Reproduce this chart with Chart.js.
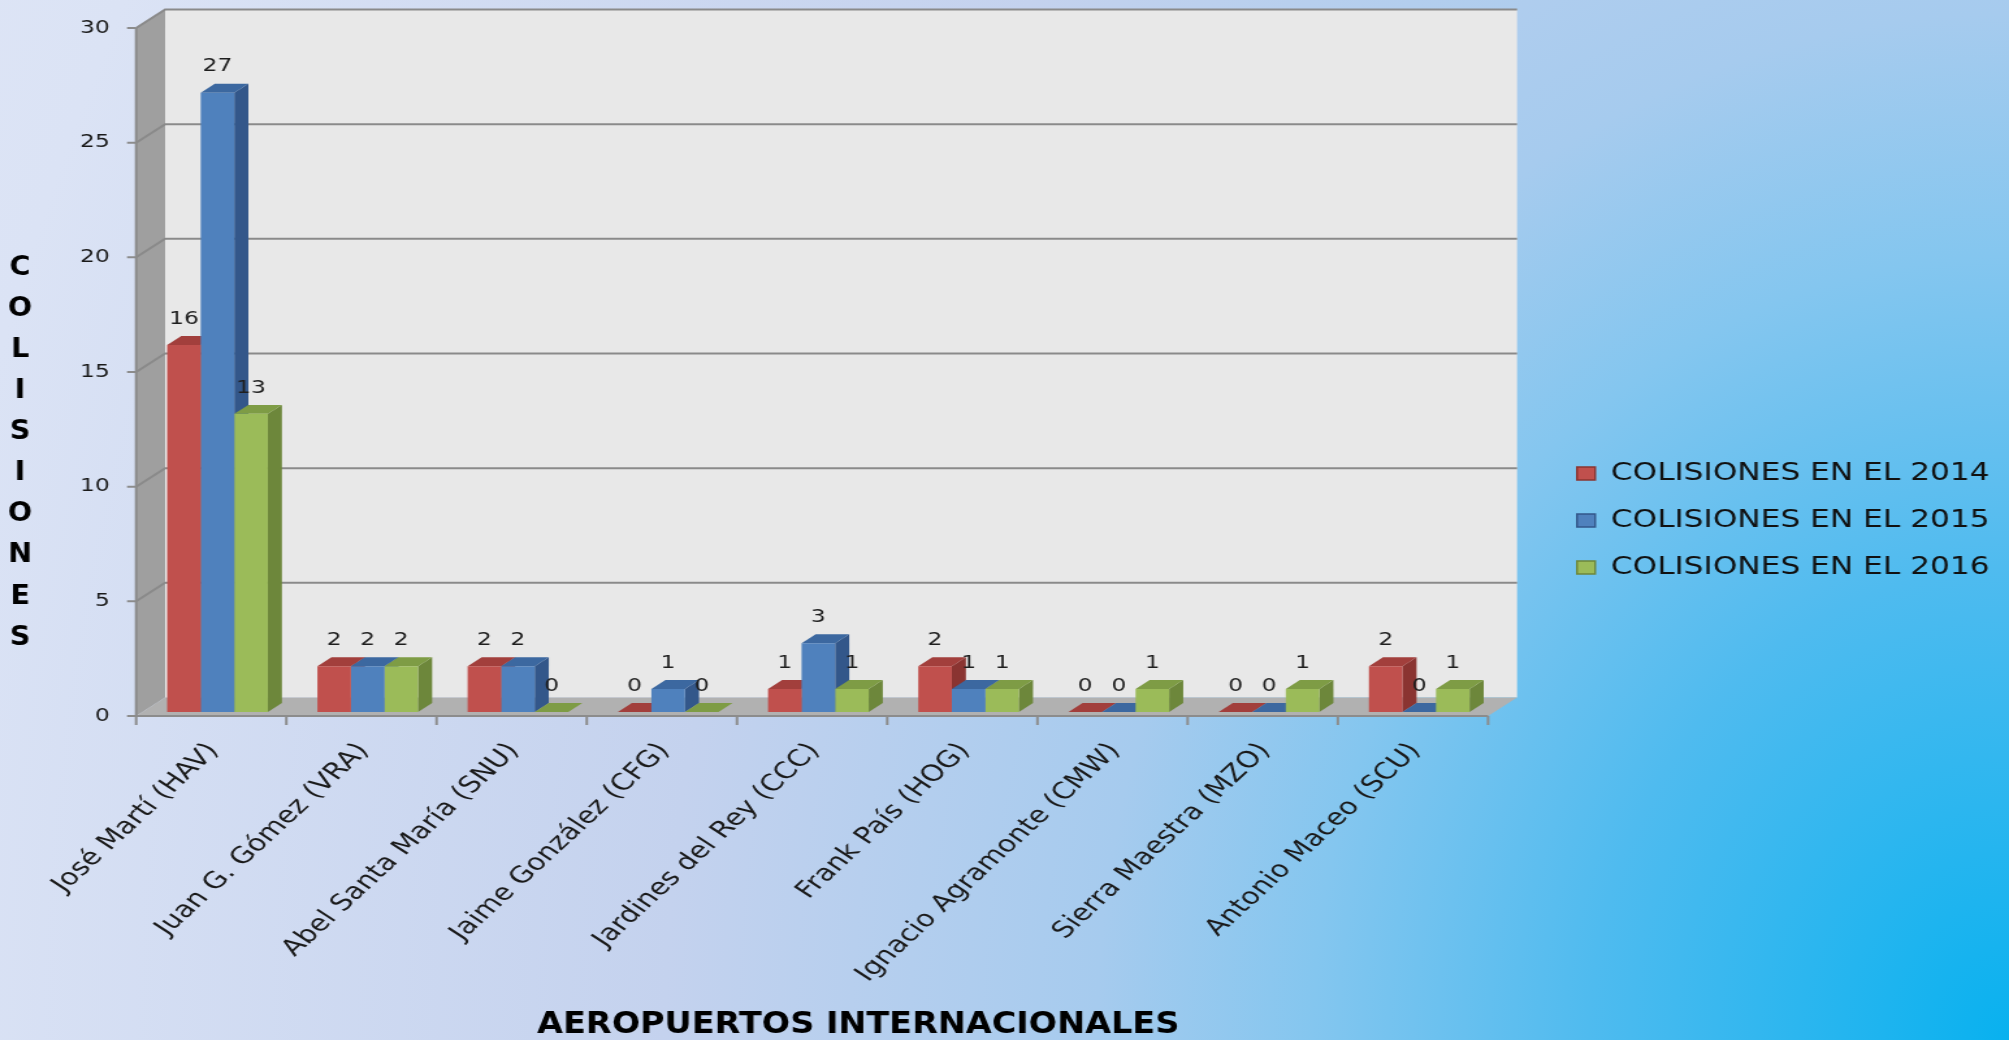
<!DOCTYPE html>
<html>
<head>
<meta charset="utf-8">
<script src="https://cdn.jsdelivr.net/npm/chart.js@4.4.1/dist/chart.umd.min.js"></script>
<style>
  html, body { margin: 0; padding: 0; width: 2009px; height: 1040px; overflow: hidden; }
  body {
    background: radial-gradient(ellipse 1200px 1350px at 100% 100%, #08b1ef 0%, #4fbbef 35%, #84c6ef 58%, #a6cbee 76%, #c4d2ee 112%, #dbe3f5 175%, #e3e9f7 230%);
  }
  #grafico { display: block; width: 2009px !important; height: 1040px !important; }
</style>
</head>
<body>
<canvas id="grafico" width="1545" height="1040" style="width:2009px;height:1040px"></canvas>
<script>
const aeropuertos = [
    'José Martí (HAV)', 'Juan G. Gómez (VRA)', 'Abel Santa María (SNU)',
    'Jaime González (CFG)', 'Jardines del Rey (CCC)', 'Frank País (HOG)',
    'Ignacio Agramonte (CMW)', 'Sierra Maestra (MZO)', 'Antonio Maceo (SCU)'
];
const colisiones2014 = [16, 2, 2, 0, 1, 2, 0, 0, 2];
const colisiones2015 = [27, 2, 2, 1, 3, 1, 0, 0, 0];
const colisiones2016 = [13, 2, 0, 0, 1, 1, 1, 1, 1];
const series = ['COLISIONES EN EL 2014', 'COLISIONES EN EL 2015', 'COLISIONES EN EL 2016'];
const tituloX = 'AEROPUERTOS INTERNACIONALES';
const tituloY = 'COLISIONES';

// frente, tapa y lado de cada barra
const colores = [
    { frente: '#c0504d', tapa: '#a23f3c', lado: '#8a3431' },
    { frente: '#4f81bd', tapa: '#3c68a0', lado: '#33578a' },
    { frente: '#9bbb59', tapa: '#7e9c45', lado: '#6d873b' }
];

// la imagen original viene estirada a lo ancho
const ESTIRA = 2009 / 1545;
const FONDO = { dx: 22.3, dy: -18.5 };
const T_FRENTE = 0.216;
const T_BARRA = 0.486;
const AREA_DERECHA = 1149.2;

const poligono = (ctx, pts, color) => {
    ctx.beginPath();
    ctx.moveTo(pts[0][0], pts[0][1]);
    for (let i = 1; i < pts.length; i++) ctx.lineTo(pts[i][0], pts[i][1]);
    ctx.closePath();
    ctx.fillStyle = color;
    ctx.fill();
};

const paredes3d = {
    id: 'paredes3d',
    beforeDatasetsDraw(chart) {
        const { ctx, chartArea: a, scales: { x, y } } = chart;
        const ox = -T_FRENTE * FONDO.dx, oy = -T_FRENTE * FONDO.dy;
        const fx0 = a.left + ox, fx1 = a.right + ox;
        const bx0 = fx0 + FONDO.dx, bx1 = fx1 + FONDO.dx;
        const fy = v => y.getPixelForValue(v) + oy;
        const by = v => fy(v) + FONDO.dy;
        const tope = y.max;

        ctx.save();
        ctx.fillStyle = '#e8e8e8';
        ctx.fillRect(bx0, by(tope), bx1 - bx0, by(0) - by(tope));
        poligono(ctx, [[fx0, fy(tope)], [bx0, by(tope)], [bx0, by(0)], [fx0, fy(0)]], '#9f9f9f');
        poligono(ctx, [[fx0, fy(0)], [fx1, fy(0)], [bx1, by(0)], [bx0, by(0)]], '#b1b1b1');

        ctx.strokeStyle = '#8a8a8a';
        ctx.lineWidth = 2;
        y.ticks.forEach(t => {
            if (t.value === 0) return;
            ctx.beginPath();
            ctx.moveTo(fx0, fy(t.value));
            ctx.lineTo(bx0, by(t.value));
            ctx.lineTo(bx1, by(t.value));
            ctx.stroke();
        });

        // ejes del frente
        ctx.strokeStyle = '#8c8c8c';
        ctx.beginPath();
        ctx.moveTo(fx0, fy(tope));
        ctx.lineTo(fx0, fy(0));
        ctx.lineTo(fx1, fy(0));
        y.ticks.forEach(t => {
            ctx.moveTo(fx0 - 7, fy(t.value));
            ctx.lineTo(fx0, fy(t.value));
        });
        for (let i = 0; i <= aeropuertos.length; i++) {
            const px = x.getPixelForValue(i - 0.5) + ox;
            ctx.moveTo(px, fy(0));
            ctx.lineTo(px, fy(0) + 9);
        }
        ctx.stroke();

        // tapas y lados de las barras
        const bdx = T_BARRA * FONDO.dx, bdy = T_BARRA * FONDO.dy;
        chart.data.datasets.forEach((ds, di) => {
            const c = colores[di];
            chart.getDatasetMeta(di).data.forEach(bar => {
                const { x: bxc, y: yt, base, width } = bar.getProps(['x', 'y', 'base', 'width'], true);
                const l = bxc - width / 2, r = bxc + width / 2;
                poligono(ctx, [[r, yt], [r + bdx, yt + bdy], [r + bdx, base + bdy], [r, base]], c.lado);
                poligono(ctx, [[l, yt], [r, yt], [r + bdx, yt + bdy], [l + bdx, yt + bdy]], c.tapa);
            });
        });
        ctx.restore();
    },
    afterDatasetsDraw(chart) {
        const { ctx } = chart;
        ctx.save();
        ctx.font = '18px "DejaVu Sans"';
        ctx.textAlign = 'center';
        ctx.textBaseline = 'middle';
        ctx.fillStyle = '#1e1e1e';
        chart.data.datasets.forEach((ds, di) => {
            chart.getDatasetMeta(di).data.forEach((bar, i) => {
                ctx.fillText(String(ds.data[i]), bar.x, bar.y - 26);
            });
        });
        ctx.restore();
    },
    afterDraw(chart) {
        const { ctx } = chart;
        ctx.save();
        ctx.fillStyle = '#000';
        ctx.textAlign = 'center';
        ctx.textBaseline = 'middle';
        ctx.font = 'bold 26px "DejaVu Sans"';
        [...tituloY].forEach((letra, i) => {
            ctx.save();
            ctx.translate(15.4, 268 + i * 41.1);
            ctx.scale(1.1 / ESTIRA, 1);
            ctx.fillText(letra, 0, 0);
            ctx.restore();
        });
        ctx.font = 'bold 31px "DejaVu Sans"';
        ctx.translate(660, 1025);
        ctx.scale(0.83, 1);
        ctx.fillText(tituloX, 0, 0);
        ctx.restore();
    }
};

Chart.defaults.font.family = '"DejaVu Sans", Verdana, sans-serif';

const grafico = new Chart(document.getElementById('grafico'), {
    type: 'bar',
    data: {
        labels: aeropuertos,
        datasets: [
            { label: series[0], data: colisiones2014, backgroundColor: colores[0].frente },
            { label: series[1], data: colisiones2015, backgroundColor: colores[1].frente },
            { label: series[2], data: colisiones2016, backgroundColor: colores[2].frente }
        ]
    },
    options: {
        responsive: false,
        animation: false,
        events: [],
        layout: { padding: { top: 24, right: 5, bottom: 23, left: 0 }, autoPadding: false },
        datasets: { bar: { barPercentage: 1, categoryPercentage: 0.67, borderWidth: 0 } },
        scales: {
            x: {
                grid: { display: false, drawTicks: false },
                border: { display: false },
                ticks: {
                    autoSkip: false, minRotation: 50, maxRotation: 50,
                    padding: 26, labelOffset: -3,
                    color: '#1a1a1a', font: { size: 23 }
                },
                afterFit: s => { s.height = 305; s.paddingLeft = 0; s.paddingRight = 0; }
            },
            y: {
                min: 0, max: 30,
                grid: { display: false, drawTicks: false },
                border: { display: false },
                ticks: { stepSize: 5, padding: 25, labelOffset: 4, color: '#1a1a1a', font: { size: 18 } },
                afterFit: s => { s.width = 109.5; s.paddingTop = 0; s.paddingBottom = 0; }
            },
            hueco: {
                type: 'linear', axis: 'y', position: 'right', display: true,
                grid: { display: false, drawTicks: false },
                border: { display: false },
                ticks: { display: false },
                afterFit: s => {
                    const lw = s.chart.legend ? s.chart.legend.width : 0;
                    s.width = Math.max(0, s.chart.width - 5 - lw - AREA_DERECHA);
                    s.paddingTop = 0; s.paddingBottom = 0;
                }
            }
        },
        plugins: {
            legend: {
                position: 'right',
                maxWidth: 600,
                labels: {
                    boxWidth: 14, boxHeight: 13, padding: 23,
                    color: '#111', font: { size: 24 },
                    generateLabels: chart => Chart.defaults.plugins.legend.labels.generateLabels(chart)
                        .map((it, i) => ({ ...it, strokeStyle: colores[i].lado, lineWidth: 1.5 }))
                }
            },
            tooltip: { enabled: false }
        }
    },
    plugins: [paredes3d]
});
</script>
</body>
</html>
